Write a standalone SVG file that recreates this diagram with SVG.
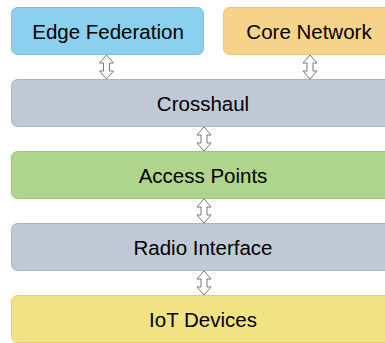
<svg xmlns="http://www.w3.org/2000/svg" width="385" height="343" viewBox="0 0 385 343">
<style>
.box{stroke-width:1}
.lbl{font-family:"Liberation Sans",Arial,Helvetica,sans-serif;font-size:20.5px;fill:#000;text-anchor:middle}
.arr{fill:#fff;stroke:#777;stroke-width:1}
</style>
<defs>
<path id="dbl" d="M0,0 L7,8 L3,8 L3,16 L7,16 L0,24 L-7,16 L-3,16 L-3,8 L-7,8 Z"/>
</defs>
<rect width="385" height="343" fill="#fff"/>
<g id="edge-federation">
<rect class="box" x="11.5" y="7.5" width="192" height="47" rx="6" fill="#8BD0EE" stroke="#7CC0DD"/>
<text class="lbl" x="108" y="38.5">Edge Federation</text>
</g>
<g id="core-network">
<rect class="box" x="223.5" y="7.5" width="171" height="47" rx="6" fill="#F6D38A" stroke="#E6C57E"/>
<text class="lbl" x="309" y="38.5">Core Network</text>
</g>
<g id="crosshaul">
<rect class="box" x="11.5" y="79.5" width="383" height="47" rx="6" fill="#BFCAD6" stroke="#A9B5C1"/>
<text class="lbl" x="203" y="110.5">Crosshaul</text>
</g>
<g id="access-points">
<rect class="box" x="11.5" y="151.5" width="383" height="47" rx="6" fill="#AFD48C" stroke="#9FC47E"/>
<text class="lbl" x="203" y="182.5">Access Points</text>
</g>
<g id="radio-interface">
<rect class="box" x="11.5" y="223.5" width="383" height="47" rx="6" fill="#BFCAD6" stroke="#A9B5C1"/>
<text class="lbl" x="203" y="254.5">Radio Interface</text>
</g>
<g id="iot-devices">
<rect class="box" x="11.5" y="295.5" width="383" height="47" rx="6" fill="#F1E283" stroke="#E0D176"/>
<text class="lbl" x="203" y="326.5">IoT Devices</text>
</g>
<g id="connectors">
<use href="#dbl" class="arr" transform="translate(106.5,55)"/>
<use href="#dbl" class="arr" transform="translate(310,55)"/>
<use href="#dbl" class="arr" transform="translate(204,127)"/>
<use href="#dbl" class="arr" transform="translate(204,199)"/>
<use href="#dbl" class="arr" transform="translate(204,271)"/>
</g>
</svg>
